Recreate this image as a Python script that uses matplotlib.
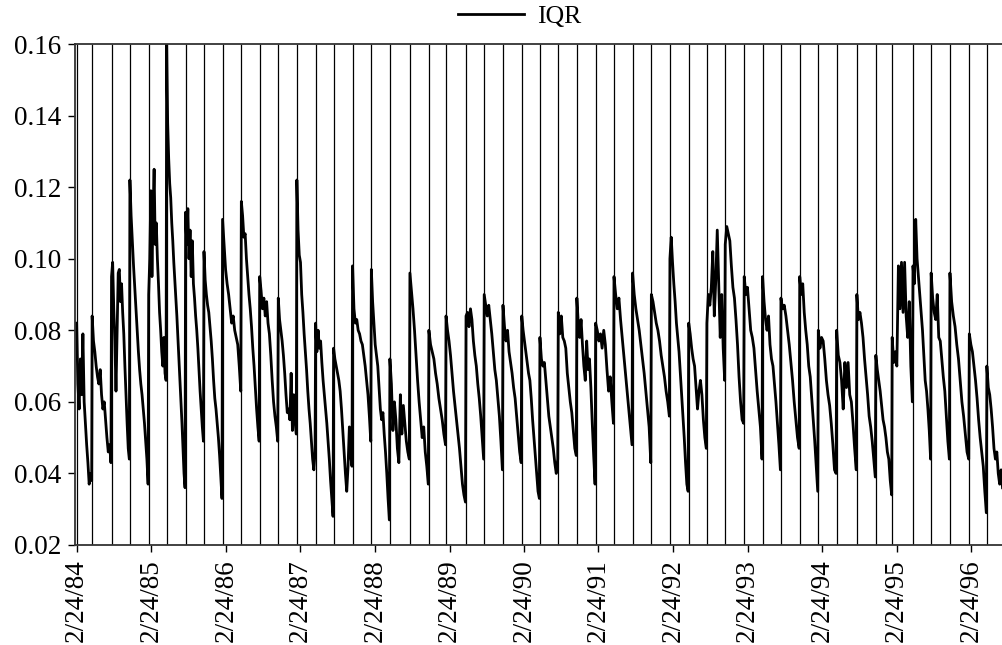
import matplotlib
matplotlib.use("Agg")
import matplotlib.pyplot as plt
import numpy as np
import pandas as pd

plt.rcParams['font.family'] = ['Liberation Serif', 'DejaVu Serif']

# contract roll dates (start of each quarterly segment)
roll_dates = [
    "1984-02-24", "1984-05-10", "1984-08-13", "1984-11-11", "1985-02-11",
    "1985-05-10", "1985-08-11", "1985-11-09", "1986-02-08", "1986-05-11",
    "1986-08-09", "1986-11-08", "1987-02-07", "1987-05-10", "1987-08-06",
    "1987-11-07", "1988-02-07", "1988-05-08", "1988-08-14", "1988-11-15",
    "1989-02-07", "1989-05-16", "1989-08-13", "1989-11-13", "1990-02-13",
    "1990-05-13", "1990-08-11", "1990-11-10", "1991-02-10", "1991-05-11",
    "1991-08-10", "1991-11-10", "1992-02-09", "1992-05-11", "1992-08-08",
    "1992-11-06", "1993-02-07", "1993-05-08", "1993-08-06", "1993-11-06",
    "1994-02-05", "1994-05-06", "1994-08-13", "1994-11-14", "1995-02-02",
    "1995-05-15", "1995-08-12", "1995-11-12", "1996-02-15", "1996-05-11",
]
end_date = "1996-07-29"

# IQR values within each segment
iqr_segments = [
    [0.082, 0.065, 0.058, 0.072, 0.062, 0.079, 0.060, 0.054, 0.048, 0.043, 0.037, 0.040, 0.038],
    [0.084, 0.077, 0.074, 0.070, 0.067, 0.065, 0.069, 0.062, 0.058, 0.060, 0.055, 0.050, 0.046, 0.048, 0.043],
    [0.095, 0.099, 0.086, 0.077, 0.063, 0.080, 0.096, 0.097, 0.088, 0.093, 0.085, 0.079, 0.070, 0.062, 0.054, 0.047, 0.044],
    [0.122, 0.112, 0.105, 0.098, 0.092, 0.086, 0.080, 0.074, 0.069, 0.065, 0.062, 0.058, 0.054, 0.049, 0.044, 0.037],
    [0.090, 0.100, 0.119, 0.095, 0.113, 0.125, 0.104, 0.110, 0.100, 0.093, 0.085, 0.080, 0.074, 0.070, 0.078, 0.068, 0.066],
    [0.160, 0.138, 0.128, 0.121, 0.117, 0.110, 0.105, 0.099, 0.094, 0.089, 0.084, 0.078, 0.072, 0.066, 0.060, 0.054, 0.047, 0.040, 0.036],
    [0.113, 0.104, 0.114, 0.100, 0.108, 0.095, 0.105, 0.093, 0.089, 0.084, 0.080, 0.075, 0.069, 0.063, 0.058, 0.053, 0.049],
    [0.102, 0.094, 0.090, 0.087, 0.085, 0.081, 0.077, 0.072, 0.066, 0.061, 0.058, 0.054, 0.050, 0.045, 0.039, 0.033],
    [0.111, 0.104, 0.097, 0.093, 0.090, 0.086, 0.082, 0.084, 0.080, 0.078, 0.076, 0.070, 0.063],
    [0.116, 0.112, 0.106, 0.107, 0.100, 0.095, 0.090, 0.086, 0.081, 0.075, 0.070, 0.064, 0.058, 0.053, 0.049],
    [0.095, 0.091, 0.086, 0.089, 0.084, 0.088, 0.082, 0.079, 0.073, 0.066, 0.060, 0.056, 0.053, 0.049],
    [0.089, 0.083, 0.080, 0.077, 0.073, 0.068, 0.062, 0.057, 0.058, 0.055, 0.068, 0.052, 0.062, 0.055, 0.051],
    [0.122, 0.108, 0.101, 0.099, 0.090, 0.085, 0.079, 0.074, 0.069, 0.063, 0.058, 0.054, 0.049, 0.044, 0.041, 0.046],
    [0.082, 0.074, 0.080, 0.075, 0.077, 0.071, 0.066, 0.062, 0.058, 0.054, 0.049, 0.044, 0.038, 0.033, 0.028],
    [0.075, 0.072, 0.070, 0.068, 0.066, 0.063, 0.058, 0.052, 0.046, 0.040, 0.035, 0.042, 0.053, 0.045, 0.042],
    [0.098, 0.086, 0.082, 0.083, 0.080, 0.079, 0.077, 0.076, 0.073, 0.070, 0.066, 0.062, 0.056, 0.049],
    [0.097, 0.088, 0.082, 0.076, 0.073, 0.070, 0.064, 0.058, 0.055, 0.057, 0.051, 0.046, 0.040, 0.033, 0.027],
    [0.072, 0.065, 0.052, 0.060, 0.055, 0.047, 0.043, 0.062, 0.051, 0.059, 0.054, 0.049, 0.046, 0.044],
    [0.096, 0.091, 0.086, 0.080, 0.073, 0.066, 0.060, 0.055, 0.050, 0.053, 0.046, 0.042, 0.037],
    [0.080, 0.076, 0.074, 0.072, 0.068, 0.065, 0.061, 0.058, 0.055, 0.051, 0.048],
    [0.084, 0.080, 0.077, 0.073, 0.068, 0.063, 0.059, 0.055, 0.051, 0.047, 0.042, 0.037, 0.034, 0.032],
    [0.084, 0.085, 0.081, 0.086, 0.083, 0.077, 0.073, 0.070, 0.065, 0.061, 0.056, 0.050, 0.044],
    [0.090, 0.087, 0.084, 0.087, 0.083, 0.079, 0.074, 0.069, 0.066, 0.061, 0.056, 0.049, 0.041],
    [0.087, 0.081, 0.077, 0.080, 0.074, 0.071, 0.068, 0.064, 0.061, 0.056, 0.051, 0.046, 0.043],
    [0.084, 0.080, 0.077, 0.074, 0.071, 0.068, 0.066, 0.061, 0.055, 0.050, 0.045, 0.040, 0.035, 0.033],
    [0.078, 0.072, 0.070, 0.071, 0.066, 0.061, 0.056, 0.053, 0.050, 0.047, 0.043, 0.040, 0.044],
    [0.085, 0.079, 0.084, 0.078, 0.077, 0.075, 0.068, 0.064, 0.060, 0.057, 0.052, 0.047, 0.045],
    [0.089, 0.082, 0.078, 0.083, 0.076, 0.070, 0.066, 0.077, 0.069, 0.072, 0.064, 0.054, 0.045, 0.037],
    [0.082, 0.080, 0.077, 0.079, 0.075, 0.080, 0.076, 0.069, 0.063, 0.067, 0.060, 0.054],
    [0.095, 0.090, 0.086, 0.089, 0.083, 0.078, 0.073, 0.068, 0.063, 0.058, 0.053, 0.048],
    [0.096, 0.090, 0.086, 0.083, 0.080, 0.076, 0.072, 0.068, 0.063, 0.058, 0.053, 0.043],
    [0.090, 0.088, 0.085, 0.082, 0.080, 0.077, 0.073, 0.070, 0.067, 0.063, 0.060, 0.056],
    [0.100, 0.106, 0.099, 0.093, 0.088, 0.082, 0.078, 0.074, 0.068, 0.062, 0.056, 0.050, 0.043, 0.037, 0.035],
    [0.082, 0.079, 0.075, 0.072, 0.070, 0.064, 0.058, 0.063, 0.066, 0.062, 0.055, 0.050, 0.047],
    [0.082, 0.090, 0.087, 0.092, 0.102, 0.084, 0.094, 0.108, 0.093, 0.078, 0.090, 0.075, 0.066],
    [0.104, 0.109, 0.107, 0.105, 0.098, 0.092, 0.089, 0.083, 0.076, 0.067, 0.060, 0.055, 0.054],
    [0.095, 0.090, 0.092, 0.086, 0.080, 0.078, 0.075, 0.069, 0.063, 0.058, 0.053, 0.044],
    [0.095, 0.088, 0.083, 0.080, 0.084, 0.076, 0.072, 0.070, 0.065, 0.060, 0.054, 0.048, 0.041],
    [0.089, 0.086, 0.087, 0.084, 0.080, 0.076, 0.071, 0.066, 0.060, 0.055, 0.050, 0.047],
    [0.095, 0.090, 0.093, 0.085, 0.080, 0.076, 0.070, 0.067, 0.061, 0.055, 0.049, 0.042, 0.035],
    [0.080, 0.075, 0.078, 0.077, 0.072, 0.066, 0.062, 0.059, 0.054, 0.048, 0.041, 0.040],
    [0.080, 0.073, 0.071, 0.066, 0.058, 0.071, 0.064, 0.071, 0.062, 0.060, 0.054, 0.047, 0.041],
    [0.090, 0.083, 0.085, 0.082, 0.078, 0.072, 0.067, 0.062, 0.056, 0.053, 0.049, 0.044, 0.039],
    [0.073, 0.069, 0.066, 0.063, 0.059, 0.055, 0.053, 0.050, 0.046, 0.044, 0.038, 0.034],
    [0.078, 0.071, 0.074, 0.070, 0.098, 0.086, 0.099, 0.085, 0.099, 0.084, 0.078, 0.088, 0.070, 0.060],
    [0.098, 0.093, 0.111, 0.100, 0.095, 0.090, 0.085, 0.080, 0.073, 0.066, 0.063, 0.058, 0.052, 0.044],
    [0.096, 0.089, 0.085, 0.083, 0.090, 0.078, 0.077, 0.072, 0.067, 0.063, 0.056, 0.049, 0.044],
    [0.096, 0.088, 0.084, 0.081, 0.076, 0.072, 0.066, 0.060, 0.056, 0.051, 0.046, 0.044],
    [0.079, 0.076, 0.074, 0.070, 0.066, 0.061, 0.055, 0.050, 0.046, 0.042, 0.035, 0.029],
    [0.070, 0.064, 0.062, 0.058, 0.053, 0.047, 0.044, 0.046, 0.040, 0.037, 0.041, 0.036],
]

tick_years = list(range(84, 97))

# spread each segment's readings across its quarter
rolls = pd.to_datetime(roll_dates)
bounds = list(rolls) + [pd.Timestamp(end_date)]
dates, values = [], []
for k, seg in enumerate(iqr_segments):
    t0, t1 = bounds[k], bounds[k + 1]
    span = (t1 - t0) * 0.97
    for j, v in enumerate(seg):
        dates.append(t0 + span * (j / (len(seg) - 1)))
        values.append(v)

fig = plt.figure(figsize=(10.03, 6.45), dpi=100)
ax = fig.add_axes([75 / 1003, 100 / 645, 1 - 75 / 1003, 501 / 645])

ax.vlines(rolls, 0.02, 0.16, color='black', lw=0.9)
ax.plot(dates, values, color='black', lw=2.0, label='IQR')

ax.set_xlim(pd.Timestamp("1984-02-16"), pd.Timestamp(end_date))
ax.set_ylim(0.02, 0.16)
ax.set_yticks(np.arange(0.02, 0.161, 0.02))
ax.set_yticklabels([f"{t:.2f}" for t in np.arange(0.02, 0.161, 0.02)], fontsize=19.5)

ticks = pd.to_datetime([f"19{y}-02-24" for y in tick_years])
ax.set_xticks(ticks)
ax.set_xticklabels([f"2/24/{y}" for y in tick_years], rotation=90, fontsize=19.5)
ax.tick_params(direction='out', length=5, width=1, pad=5)

for side in ['top', 'bottom', 'left']:
    ax.spines[side].set_color('#333333')
    ax.spines[side].set_linewidth(1.3)
ax.spines['right'].set_visible(False)

fig.legend(loc='center', bbox_to_anchor=(0.518, 0.975), frameon=False,
           fontsize=18.5, handlelength=2.6, handletextpad=0.5)

fig.savefig('out.png', dpi=100)
